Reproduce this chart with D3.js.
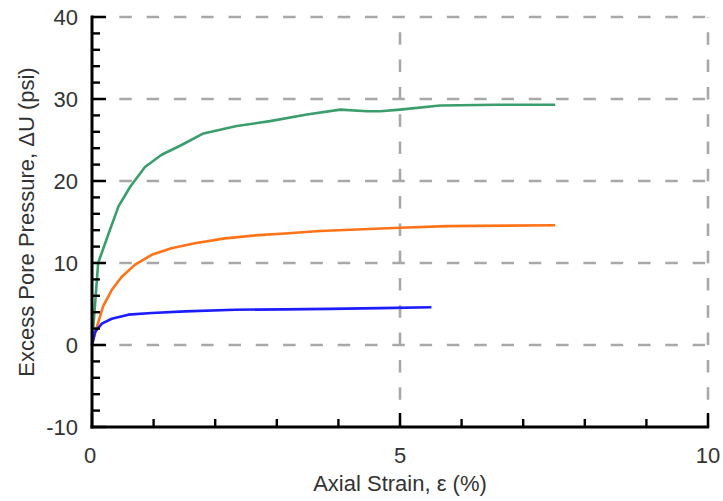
<!DOCTYPE html>
<html>
<head>
<meta charset="utf-8">
<script src="https://cdn.jsdelivr.net/npm/d3@7"></script>
<style>
  body { margin: 0; background: #fff; }
  svg text { font-family: "Liberation Sans", Arial, sans-serif; fill: #333; }
</style>
</head>
<body>
<svg id="chart" width="723" height="501"></svg>
<script>
// Excess pore pressure vs axial strain, three tests
const strainGreen = [0, 0.10, 0.27, 0.43, 0.62, 0.86, 1.13, 1.43, 1.81, 2.35, 2.89, 3.49, 4.03, 4.46, 4.68, 5.0, 5.65, 6.57, 7.52];
const pressGreen  = [0, 10.0, 13.6, 16.9, 19.3, 21.7, 23.2, 24.3, 25.8, 26.7, 27.3, 28.1, 28.7, 28.5, 28.5, 28.7, 29.2, 29.3, 29.3];

const strainOrange = [0, 0.08, 0.18, 0.32, 0.48, 0.70, 0.97, 1.29, 1.67, 2.16, 2.70, 3.13, 3.70, 5.0, 5.76, 7.52];
const pressOrange  = [0, 2.2, 4.7, 6.7, 8.3, 9.8, 11.0, 11.8, 12.4, 13.0, 13.4, 13.6, 13.9, 14.3, 14.5, 14.6];

const strainBlue = [0, 0.05, 0.16, 0.32, 0.59, 0.97, 1.51, 2.32, 3.13, 3.86, 4.68, 5.51];
const pressBlue  = [0, 1.6, 2.6, 3.2, 3.7, 3.9, 4.1, 4.3, 4.35, 4.4, 4.5, 4.6];

const xTickLabels = [0, 5, 10];
const yTickLabels = [-10, 0, 10, 20, 30, 40];
const xGridValues = [5, 10];
const yGridValues = [0, 10, 20, 30, 40];

const seriesList = [
  { xs: strainGreen,  ys: pressGreen,  color: "#3a9e6c" },
  { xs: strainOrange, ys: pressOrange, color: "#ff7318" },
  { xs: strainBlue,   ys: pressBlue,   color: "#1c1cff" }
];

const svg = d3.select("#chart");
const plotLeft = 92, plotRight = 708, plotTop = 17, plotBottom = 427;
const fontSize = 22;

const x = d3.scaleLinear().domain([0, 10]).range([plotLeft, plotRight]);
const y = d3.scaleLinear().domain([-10, 40]).range([plotBottom, plotTop]);

// dashed grid
const grid = svg.append("g")
  .attr("stroke", "#a8a8a8")
  .attr("stroke-width", 2.6)
  .attr("stroke-dasharray", "12.5,14.8");
grid.selectAll("line.h").data(yGridValues).join("line")
  .attr("class", "h")
  .attr("x1", x(0)).attr("x2", x(10))
  .attr("y1", d => y(d)).attr("y2", d => y(d));
grid.selectAll("line.v").data(xGridValues).join("line")
  .attr("class", "v")
  .attr("x1", d => x(d)).attr("x2", d => x(d))
  .attr("y1", y(-10)).attr("y2", y(40));

// data curves
const line = d3.line().x(d => x(d[0])).y(d => y(d[1]));
seriesList.forEach(s => {
  svg.append("path")
    .datum(s.xs.map((v, i) => [v, s.ys[i]]))
    .attr("fill", "none")
    .attr("stroke", s.color)
    .attr("stroke-width", 2.6)
    .attr("stroke-linejoin", "round")
    .attr("d", line);
});

// y axis: ticks pointing inward, minor every 2
const yAxis = svg.append("g").attr("transform", `translate(${plotLeft},0)`);
yAxis.selectAll("line.t").data(d3.range(-10, 40.001, 2)).join("line")
  .attr("class", "t")
  .attr("x1", 0).attr("x2", d => d % 10 === 0 ? 14 : 8)
  .attr("y1", d => y(d)).attr("y2", d => y(d))
  .attr("stroke", "#000").attr("stroke-width", 2.4);
yAxis.append("line")
  .attr("x1", 0).attr("x2", 0).attr("y1", y(40) - 1.5).attr("y2", y(-10) + 1.5)
  .attr("stroke", "#000").attr("stroke-width", 3);
yAxis.selectAll("text").data(yTickLabels).join("text")
  .attr("x", -14).attr("y", d => y(d)).attr("dy", "0.35em")
  .attr("text-anchor", "end")
  .attr("font-size", fontSize)
  .text(d => d);

// x axis: ticks pointing up, every 1 unit
const xAxis = svg.append("g").attr("transform", `translate(0,${plotBottom})`);
xAxis.selectAll("line.t").data(d3.range(0, 10.001, 1)).join("line")
  .attr("class", "t")
  .attr("x1", d => x(d)).attr("x2", d => x(d))
  .attr("y1", 0).attr("y2", d => d % 5 === 0 ? -14 : -8)
  .attr("stroke", "#000").attr("stroke-width", 2.4);
xAxis.append("line")
  .attr("x1", x(0) - 1.5).attr("x2", x(10) + 1.2).attr("y1", 0).attr("y2", 0)
  .attr("stroke", "#000").attr("stroke-width", 3);
xAxis.selectAll("text").data(xTickLabels).join("text")
  .attr("x", d => x(d) - (d === 0 ? 2 : 0)).attr("y", 36)
  .attr("text-anchor", "middle")
  .attr("font-size", fontSize)
  .text(d => d);

// axis titles
svg.append("text")
  .attr("x", x(5)).attr("y", 491)
  .attr("text-anchor", "middle")
  .attr("font-size", fontSize)
  .text("Axial Strain, ε (%)");
svg.append("text")
  .attr("transform", `translate(34,${(plotTop + plotBottom) / 2}) rotate(-90)`)
  .attr("text-anchor", "middle")
  .attr("font-size", fontSize)
  .text("Excess Pore Pressure, ΔU (psi)");
</script>
</body>
</html>
